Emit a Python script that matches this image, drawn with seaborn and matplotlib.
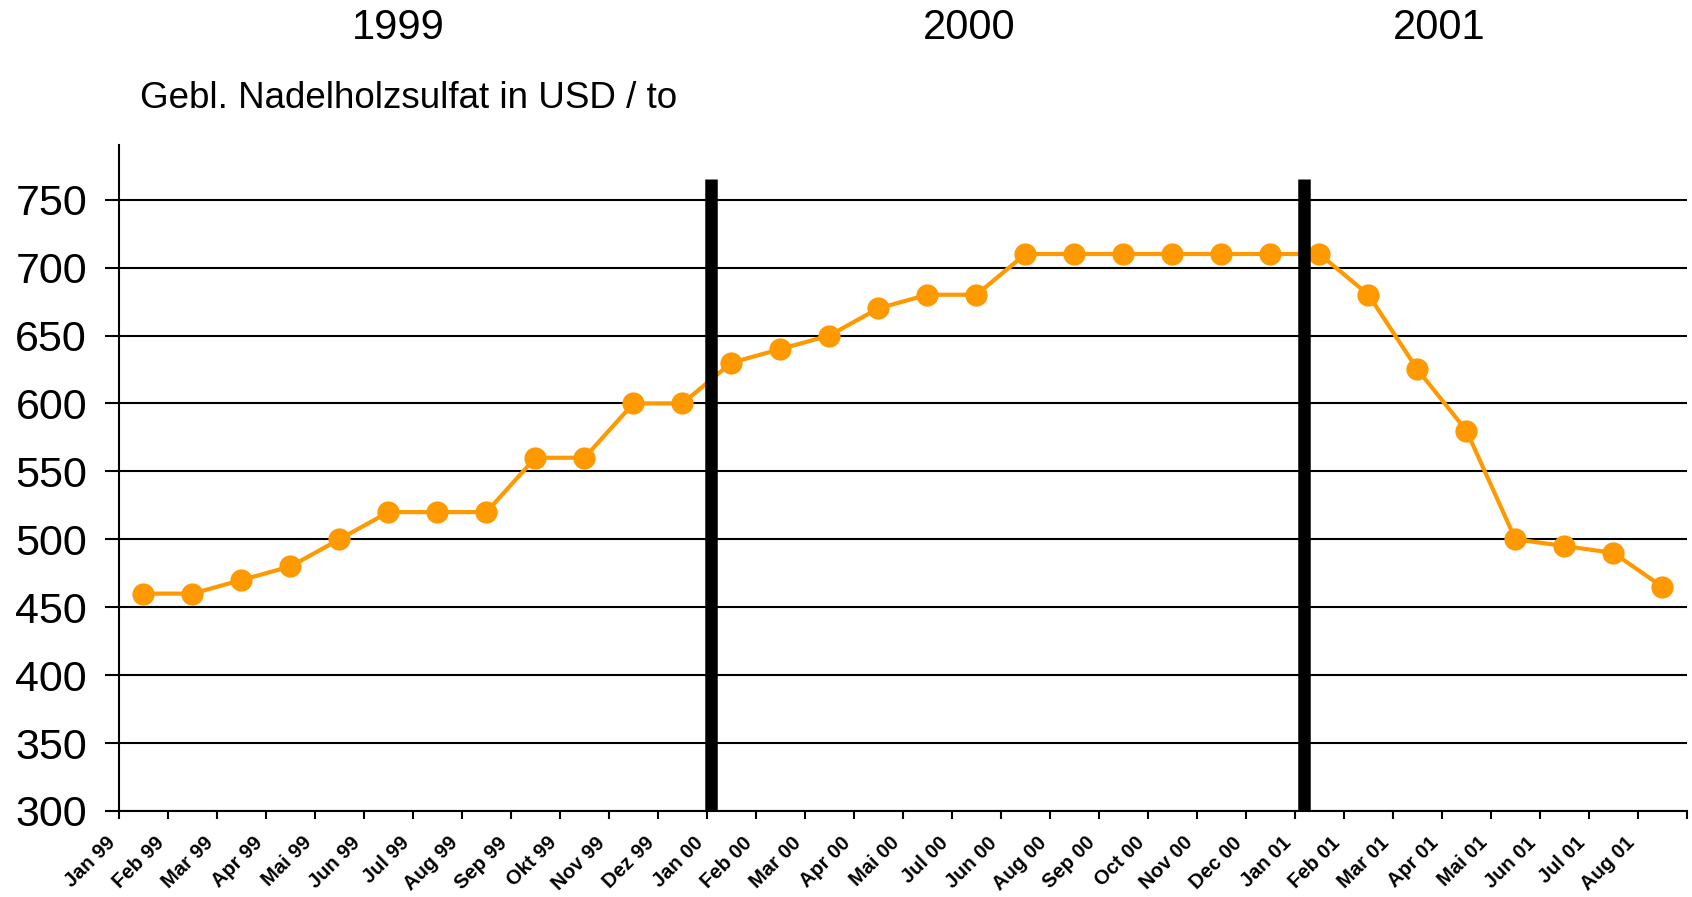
import pandas as pd
import seaborn as sns
import matplotlib.pyplot as plt
from matplotlib.transforms import blended_transform_factory

# data
months = ['Jan 99', 'Feb 99', 'Mar 99', 'Apr 99', 'Mai 99', 'Jun 99', 'Jul 99', 'Aug 99',
          'Sep 99', 'Okt 99', 'Nov 99', 'Dez 99',
          'Jan 00', 'Feb 00', 'Mar 00', 'Apr 00', 'Mai 00', 'Jul 00', 'Jun 00', 'Aug 00',
          'Sep 00', 'Oct 00', 'Nov 00', 'Dec 00',
          'Jan 01', 'Feb 01', 'Mar 01', 'Apr 01', 'Mai 01', 'Jun 01', 'Jul 01', 'Aug 01']
price_1999 = [460, 460, 470, 480, 500, 520, 520, 520, 560, 560, 600, 600]
price_2000 = [630, 640, 650, 670, 680, 680, 710, 710, 710, 710, 710, 710]
price_2001 = [710, 680, 625, 580, 500, 495, 490, 465]
years = ['1999', '2000', '2001']
year_label_x = [5.2, 16.85, 26.45]
year_breaks = [11.58, 23.68]

prices = price_1999 + price_2000 + price_2001
df = pd.DataFrame({'pos': range(len(months)), 'month': months, 'price': prices})

sns.set_style('white')
plt.rcParams['font.family'] = ['Liberation Sans', 'DejaVu Sans']
plt.rcParams['text.color'] = 'black'
plt.rcParams['xtick.color'] = 'black'
plt.rcParams['ytick.color'] = 'black'

fig = plt.figure(figsize=(16.92, 8.97), dpi=100)
ax = fig.add_axes([0.0703, 0.0959, 0.9267, 0.7421])

# horizontal grid lines
for v in range(300, 751, 50):
    ax.axhline(v, color='black', lw=1.5, zorder=1)

sns.lineplot(data=df, x='pos', y='price', ax=ax, color='#FF9900', lw=3,
             marker='o', markersize=16, markeredgewidth=0, zorder=3)

# year separators
ax.vlines(year_breaks, 300, 765, color='black', lw=9, zorder=4)

ax.set_xlim(-0.5, len(months) - 0.5)
ax.set_ylim(300, 790)
ax.set_yticks(range(300, 751, 50))
ax.tick_params(axis='y', labelsize=31, length=10, width=1.5, direction='out', left=True, pad=13)
ax.set_xticks([i - 0.5 for i in range(len(months) + 1)])
ax.set_xticklabels(months + [''], rotation=45, ha='right', fontsize=14.5, fontweight='bold')
ax.tick_params(axis='x', length=6, width=1.5, direction='out', bottom=True, pad=10)
ax.set_xlabel('')
ax.set_ylabel('')

for s in ['top', 'right']:
    ax.spines[s].set_visible(False)
for s in ['left', 'bottom']:
    ax.spines[s].set_color('black')
    ax.spines[s].set_linewidth(1.5)

trans = blended_transform_factory(ax.transData, fig.transFigure)
for x, y in zip(year_label_x, years):
    ax.text(x, 0.969, y, fontsize=30, ha='center', va='center', transform=trans)

fig.text(0.0827, 0.89, 'Gebl. Nadelholzsulfat in USD / to', fontsize=26.5, ha='left', va='center')

plt.savefig('out.png', dpi=100)
